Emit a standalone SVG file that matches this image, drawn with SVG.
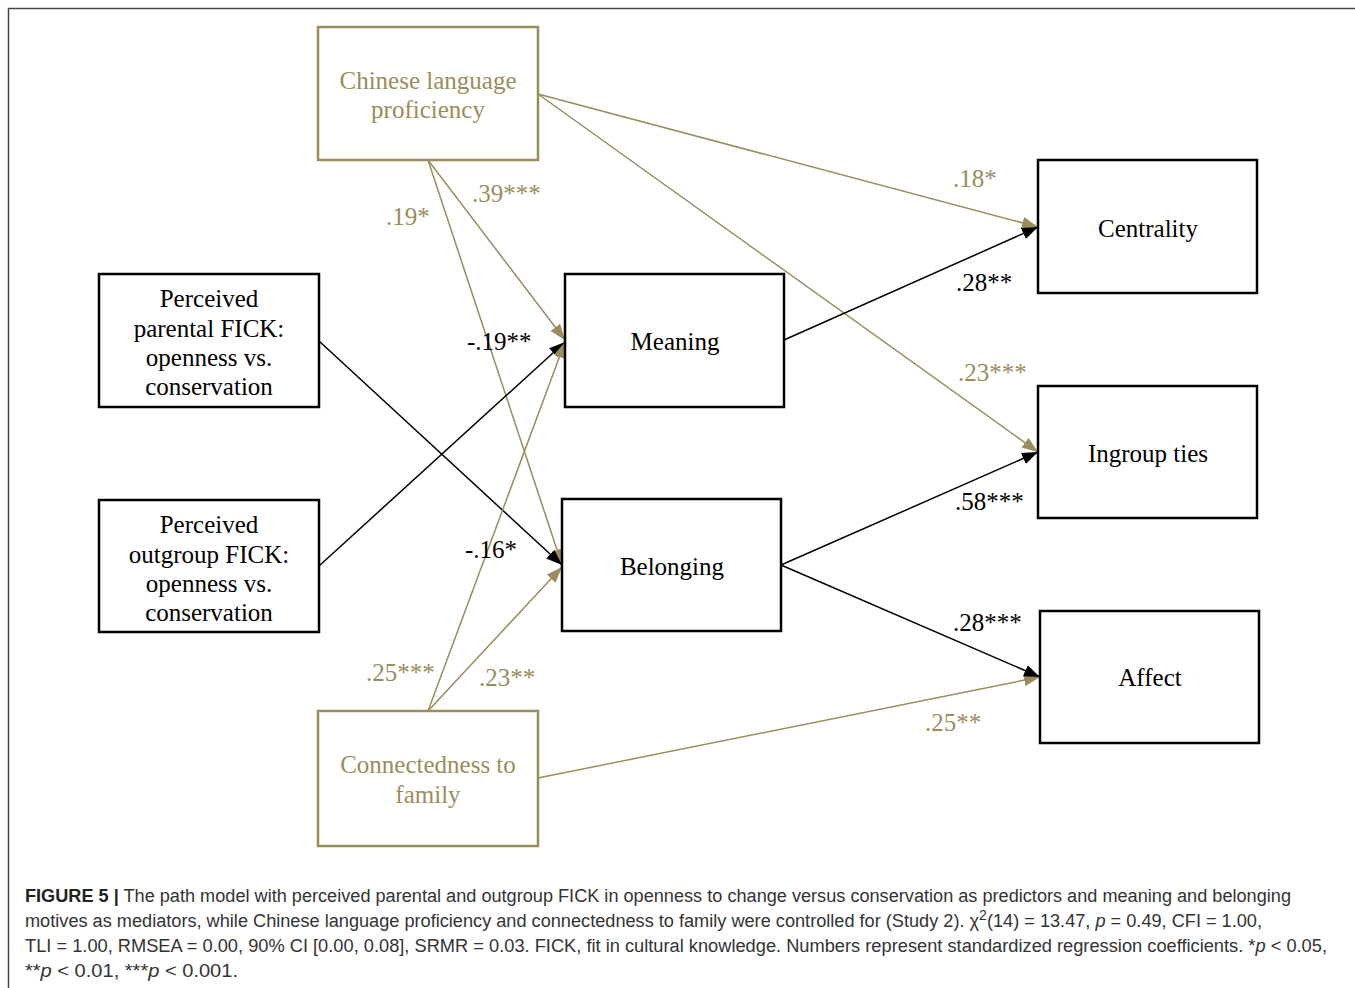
<svg xmlns="http://www.w3.org/2000/svg" width="1355" height="988" viewBox="0 0 1355 988">
<style>
.bx{fill:#fff;stroke:#000;stroke-width:2.5}
.gbx{fill:#fff;stroke:#9a8d5b;stroke-width:2.5}
.t{font-family:"Liberation Serif","Times New Roman",serif;font-size:25px;fill:#000;text-anchor:middle}
.gt{font-family:"Liberation Serif","Times New Roman",serif;font-size:25px;fill:#9a8d5b;text-anchor:middle}
.lb{font-family:"Liberation Serif","Times New Roman",serif;font-size:25px;fill:#000}
.glb{font-family:"Liberation Serif","Times New Roman",serif;font-size:25px;fill:#9a8d5b}
.k{stroke:#000;stroke-width:1.5;fill:none;marker-end:url(#ak)}
.g{stroke:#9a8d5b;stroke-width:1.5;fill:none;marker-end:url(#ag)}
.cap{font-family:"Liberation Sans",Arial,sans-serif;font-size:18px;fill:#333}
</style>
<defs>
<marker id="ak" markerUnits="userSpaceOnUse" markerWidth="18" markerHeight="14" refX="16" refY="6" orient="auto"><path d="M0,0 L16,6 L0,12 z" fill="#000"/></marker>
<marker id="ag" markerUnits="userSpaceOnUse" markerWidth="18" markerHeight="14" refX="16" refY="6" orient="auto"><path d="M0,0 L16,6 L0,12 z" fill="#9a8d5b"/></marker>
</defs>
<rect width="1355" height="988" fill="#fff"/>
<path d="M8.5,988 V8.5 H1355" fill="none" stroke="#444" stroke-width="1.5"/>
<g id="connectors">
<line class="g" x1="538" y1="94" x2="1038" y2="227"/>
<line class="g" x1="538" y1="94" x2="1038" y2="452"/>
<line class="g" x1="428" y1="160" x2="565" y2="340"/>
<line class="g" x1="428" y1="160" x2="562" y2="565"/>
<line class="k" x1="319" y1="341" x2="562" y2="565"/>
<line class="k" x1="319" y1="566" x2="565" y2="342"/>
<line class="g" x1="428" y1="711" x2="565" y2="342"/>
<line class="g" x1="428" y1="711" x2="562" y2="567"/>
<line class="g" x1="538" y1="778" x2="1040" y2="677"/>
<line class="k" x1="784" y1="340" x2="1038" y2="227"/>
<line class="k" x1="781" y1="565" x2="1038" y2="452"/>
<line class="k" x1="781" y1="565" x2="1040" y2="677"/>
<text class="glb" x="953" y="187">.18*</text>
<text class="lb" x="956" y="291">.28**</text>
<text class="glb" x="958" y="381">.23***</text>
<text class="lb" x="955" y="510">.58***</text>
<text class="lb" x="953" y="631">.28***</text>
<text class="glb" x="925" y="731">.25**</text>
<text class="glb" x="472" y="202">.39***</text>
<text class="glb" x="386" y="225">.19*</text>
<text class="lb" x="467" y="350">-.19**</text>
<text class="lb" x="465" y="558">-.16*</text>
<text class="glb" x="366" y="681">.25***</text>
<text class="glb" x="479" y="686">.23**</text>
</g>
<g id="chinese">
<rect class="gbx" x="318" y="27" width="220" height="133"/>
<text class="gt" x="428" y="89">Chinese language</text>
<text class="gt" x="428" y="118">proficiency</text>
</g>
<g id="parental">
<rect class="bx" x="99" y="274" width="220" height="133"/>
<text class="t" x="209" y="307">Perceived</text>
<text class="t" x="209" y="337">parental FICK:</text>
<text class="t" x="209" y="366">openness vs.</text>
<text class="t" x="209" y="395">conservation</text>
</g>
<g id="outgroup">
<rect class="bx" x="99" y="500" width="220" height="132"/>
<text class="t" x="209" y="533">Perceived</text>
<text class="t" x="209" y="563">outgroup FICK:</text>
<text class="t" x="209" y="592">openness vs.</text>
<text class="t" x="209" y="621">conservation</text>
</g>
<g id="meaning">
<rect class="bx" x="565" y="274" width="219" height="133"/>
<text class="t" x="675" y="350">Meaning</text>
</g>
<g id="belonging">
<rect class="bx" x="562" y="499" width="219" height="132"/>
<text class="t" x="672" y="575">Belonging</text>
</g>
<g id="centrality">
<rect class="bx" x="1038" y="160" width="219" height="133"/>
<text class="t" x="1148" y="237">Centrality</text>
</g>
<g id="ingroup">
<rect class="bx" x="1038" y="386" width="219" height="132"/>
<text class="t" x="1148" y="462">Ingroup ties</text>
</g>
<g id="affect">
<rect class="bx" x="1040" y="611" width="219" height="132"/>
<text class="t" x="1150" y="686">Affect</text>
</g>
<g id="connectedness">
<rect class="gbx" x="318" y="711" width="220" height="135"/>
<text class="gt" x="428" y="773">Connectedness to</text>
<text class="gt" x="428" y="803">family</text>
</g>
<g id="caption">
<text class="cap" x="25" y="902" textLength="1266" lengthAdjust="spacingAndGlyphs"><tspan font-weight="bold" fill="#222">FIGURE 5 |</tspan> The path model with perceived parental and outgroup FICK in openness to change versus conservation as predictors and meaning and belonging</text>
<text class="cap" x="25" y="927" textLength="1237" lengthAdjust="spacingAndGlyphs">motives as mediators, while Chinese language proficiency and connectedness to family were controlled for (Study 2). χ<tspan font-size="14" dy="-7">2</tspan><tspan dy="7">(14) = 13.47, </tspan><tspan font-style="italic">p</tspan> = 0.49, CFI = 1.00,</text>
<text class="cap" x="25" y="952" textLength="1302" lengthAdjust="spacingAndGlyphs">TLI = 1.00, RMSEA = 0.00, 90% CI [0.00, 0.08], SRMR = 0.03. FICK, fit in cultural knowledge. Numbers represent standardized regression coefficients. *<tspan font-style="italic">p</tspan> &lt; 0.05,</text>
<text class="cap" x="25" y="977" textLength="213" lengthAdjust="spacingAndGlyphs">**<tspan font-style="italic">p</tspan> &lt; 0.01, ***<tspan font-style="italic">p</tspan> &lt; 0.001.</text>
</g>
</svg>
